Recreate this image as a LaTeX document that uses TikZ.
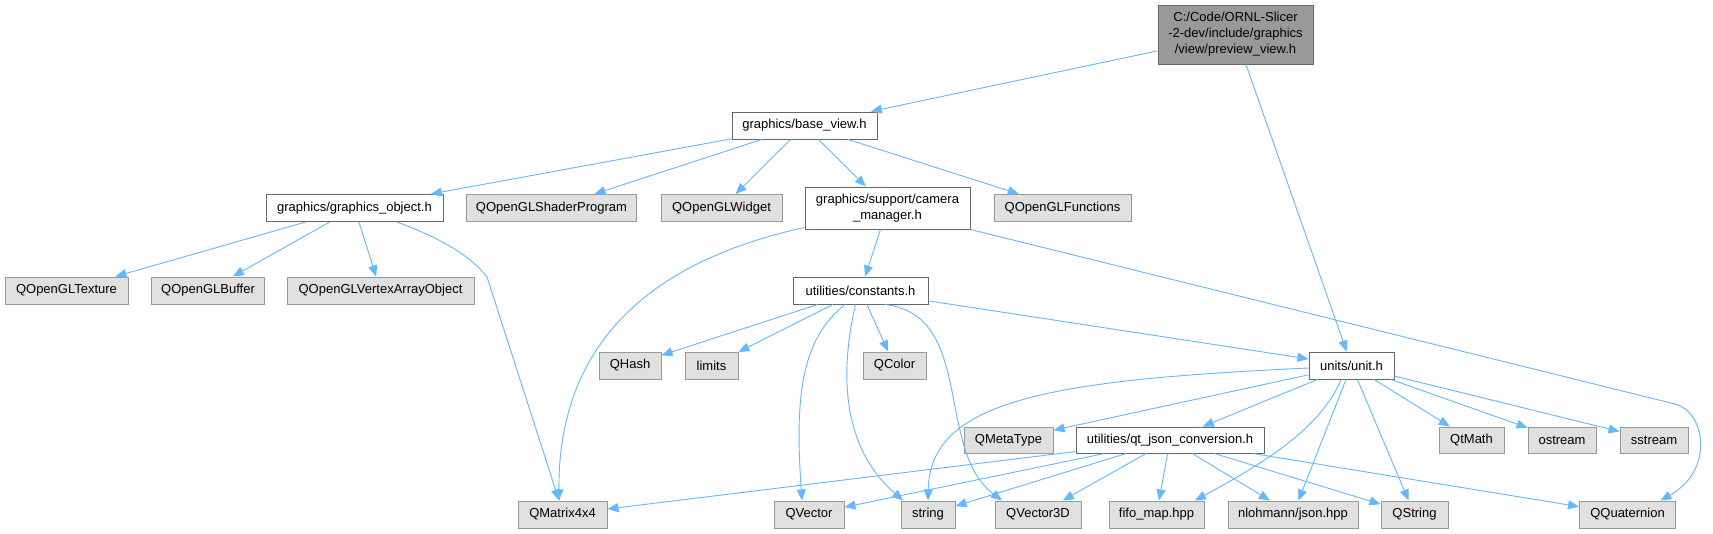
\documentclass[tikz,border=0pt]{standalone}
\usepackage{fontspec}
\setmainfont{Liberation Sans}
\usetikzlibrary{arrows.meta}

\begin{document}
\begin{tikzpicture}[x=1pt, y=-1pt, >={Triangle[length=11pt,width=9pt]},
  every node/.style={font=\fontsize{13}{16}\selectfont, inner sep=0pt, minimum height=27pt, align=center},
  file/.style={draw=BoxLine, fill=white, line width=1pt},
  ext/.style={draw=ExtLine, fill=ExtFill, line width=1pt},
  top/.style={draw=BoxLine, fill=RootFill, line width=1pt},
  dep/.style={->, draw=Edge, line width=0.9pt}]
\definecolor{Edge}{HTML}{63B8FF}\definecolor{BoxLine}{HTML}{666666}\definecolor{ExtLine}{HTML}{999999}\definecolor{ExtFill}{HTML}{E0E0E0}\definecolor{RootFill}{HTML}{999999}
\path[use as bounding box, fill=white] (0,0) rectangle (1713,533);
% headers of the project
\node[top, minimum width=155pt, minimum height=59pt] (pv) at (1235.5,34.5) {C:/Code/ORNL-Slicer\\-2-dev/include/graphics\\/view/preview\_view.h};
\node[file, minimum width=145pt] (base) at (804.5,125.5) {graphics/base\_view.h};
\node[file, minimum width=177pt] (go) at (354.5,208) {graphics/graphics\_object.h};
\node[file, minimum width=165pt, minimum height=42pt] (camera) at (887.5,208) {graphics/support/camera\\\_manager.h};
\node[file, minimum width=135pt] (consts) at (860.5,290.5) {utilities/constants.h};
\node[file, minimum width=85pt] (unit) at (1351.5,365.5) {units/unit.h};
\node[file, minimum width=188pt, minimum height=26pt] (json) at (1170,440) {utilities/qt\_json\_conversion.h};
% system and library headers
\node[ext, minimum width=170pt] (shader) at (551.5,208) {QOpenGLShaderProgram};
\node[ext, minimum width=121pt] (widget) at (721.5,208) {QOpenGLWidget};
\node[ext, minimum width=137pt] (funcs) at (1062.5,208) {QOpenGLFunctions};
\node[ext, minimum width=123pt] (tex) at (66.5,290.5) {QOpenGLTexture};
\node[ext, minimum width=113pt] (buf) at (208,290.5) {QOpenGLBuffer};
\node[ext, minimum width=187pt] (vao) at (380.5,290.5) {QOpenGLVertexArrayObject};
\node[ext, minimum width=62pt] (qhash) at (630,365.5) {QHash};
\node[ext, minimum width=53pt] (limits) at (711.5,365.5) {limits};
\node[ext, minimum width=63pt] (qcolor) at (894.5,365.5) {QColor};
\node[ext, minimum width=89pt, minimum height=26pt] (qmeta) at (1008.5,440) {QMetaType};
\node[ext, minimum width=65pt, minimum height=26pt] (qtmath) at (1471.5,440) {QtMath};
\node[ext, minimum width=68pt, minimum height=26pt] (ostream) at (1562,440) {ostream};
\node[ext, minimum width=68pt, minimum height=26pt] (sstream) at (1654,440) {sstream};
\node[ext, minimum width=89pt] (qmat) at (562.5,514.5) {QMatrix4x4};
\node[ext, minimum width=70pt] (qvec) at (809,514.5) {QVector};
\node[ext, minimum width=54pt] (string) at (928,514.5) {string};
\node[ext, minimum width=86pt] (qvec3) at (1038,514.5) {QVector3D};
\node[ext, minimum width=95pt] (fifo) at (1156.5,514.5) {fifo\_map.hpp};
\node[ext, minimum width=130pt] (nloh) at (1293,514.5) {nlohmann/json.hpp};
\node[ext, minimum width=67pt] (qstr) at (1414.5,514.5) {QString};
\node[ext, minimum width=96pt] (qquat) at (1627.5,514.5) {QQuaternion};
% include edges
\draw[dep] (pv) -- (base);
\draw[dep] (pv) -- (unit);
\draw[dep] (base) -- (go);
\draw[dep] (base) -- (shader);
\draw[dep] (base) -- (widget);
\draw[dep] (base) -- (camera);
\draw[dep] (base) -- (funcs);
\draw[dep] (go) -- (tex);
\draw[dep] (go) -- (buf);
\draw[dep] (go) -- (vao);
\draw[dep] ([xshift=42.5pt]go.south) .. controls (440,238) and (470,255) .. (487,277) -- ([xshift=-3.5pt]qmat.north);
\draw[dep] ([yshift=2pt]camera.south west) .. controls (610,270) and (558,380) .. ([xshift=-3.5pt]qmat.north);
\draw[dep] (camera) -- (consts);
\draw[dep] (camera.south east) -- (1675,404) .. controls (1705,411.5) and (1715,470) .. ([xshift=33pt]qquat.north);
\draw[dep] (consts) -- (qhash);
\draw[dep] (consts) -- (limits);
\draw[dep] (consts) -- (qcolor);
\draw[dep] (consts) -- (unit);
\draw[dep] ([xshift=-15.5pt]consts.south) .. controls (800,340) and (795,400) .. ([xshift=-7pt]qvec.north);
\draw[dep] ([xshift=-5pt]consts.south) .. controls (838,380) and (845,450) .. ([xshift=-25pt]string.north);
\draw[dep] ([xshift=24.5pt]consts.south) .. controls (975,315) and (935,450) .. ([xshift=-36pt]qvec3.north);
\draw[dep] ([yshift=-2.5pt]unit.west) .. controls (1050,380) and (930,400) .. (string.north);
\draw[dep] (unit) -- (qmeta);
\draw[dep] (unit) -- (json);
\draw[dep] ([xshift=-10.5pt]unit.south) .. controls (1320,430) and (1260,465) .. ([xshift=38.5pt]fifo.north);
\draw[dep] (unit) -- (nloh);
\draw[dep] (unit) -- (qstr);
\draw[dep] (unit) -- (qtmath);
\draw[dep] (unit) -- (ostream);
\draw[dep] (unit) -- (sstream);
\draw[dep] (json) -- (qmat);
\draw[dep] (json) -- (qvec);
\draw[dep] (json) -- (string);
\draw[dep] (json) -- (qvec3);
\draw[dep] (json) -- (fifo);
\draw[dep] (json) -- (nloh);
\draw[dep] (json) -- (qstr);
\draw[dep] (json) -- (qquat);
\end{tikzpicture}
\end{document}
